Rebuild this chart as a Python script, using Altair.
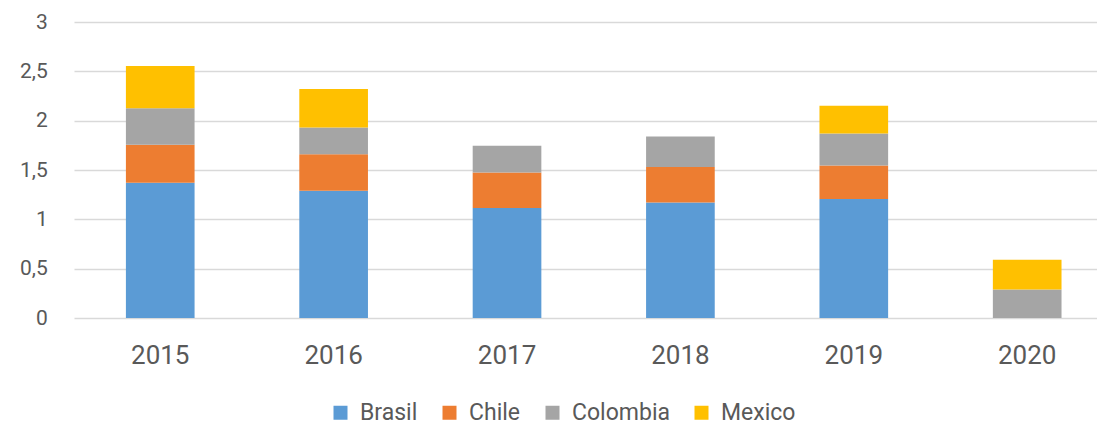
import altair as alt
import pandas as pd

years = ["2015", "2016", "2017", "2018", "2019", "2020"]
countries = ["Brasil", "Chile", "Colombia", "Mexico"]
brasil = [1.37, 1.29, 1.115, 1.17, 1.205, 0]
chile = [0.385, 0.37, 0.36, 0.36, 0.34, 0]
colombia = [0.37, 0.27, 0.27, 0.31, 0.325, 0.29]
mexico = [0.43, 0.39, 0, 0, 0.28, 0.30]
colors = ["#5B9BD5", "#ED7D31", "#A5A5A5", "#FFC000"]

series = [brasil, chile, colombia, mexico]
rows = []
for ci, (c, vals) in enumerate(zip(countries, series)):
    for y, v in zip(years, vals):
        rows.append({"year": y, "country": c, "value": v, "ord": ci})
df = pd.DataFrame(rows)

FONT = "Roboto"
TXT = "#595959"

chart = alt.Chart(df).mark_bar().encode(
    x=alt.X("year:N", sort=years, title=None,
            scale=alt.Scale(paddingInner=0.604, paddingOuter=0.252, align=0.594),
            axis=alt.Axis(labelAngle=0, labelFontSize=26, labelFont=FONT, labelColor=TXT,
                          ticks=False, tickSize=0, domain=False, grid=False,
                          labelBaseline="alphabetic", labelPadding=45.7)),
    y=alt.Y("value:Q", stack="zero", title=None,
            scale=alt.Scale(domain=[0, 3], nice=False),
            axis=alt.Axis(values=[0, 0.5, 1, 1.5, 2, 2.5, 3],
                          labelExpr="replace(toString(datum.value), '.', ',')",
                          labelFontSize=21, labelFont=FONT, labelColor=TXT,
                          ticks=False, tickSize=0, domain=False,
                          labelPadding=26.7, labelBaseline="middle",
                          grid=True, gridColor="#d9d9d9", gridWidth=1.5)),
    color=alt.Color("country:N", sort=countries,
                    scale=alt.Scale(domain=countries, range=colors),
                    legend=alt.Legend(title=None, orient="none", direction="horizontal",
                                      legendX=255, legendY=379, padding=0,
                                      symbolType="square", symbolSize=196,
                                      symbolStrokeWidth=0, labelFontSize=23,
                                      labelFont=FONT, labelColor=TXT,
                                      labelOffset=8, columnPadding=20)),
    order=alt.Order("ord:Q", sort="ascending"),
).properties(
    width=1023, height=296,
    autosize=alt.AutoSizeParams(type="none"),
    padding={"left": 66, "top": 14, "right": 0, "bottom": 112},
).configure_view(stroke=None)

chart.save("out.html", embed_options={"renderer": "svg", "actions": False})
